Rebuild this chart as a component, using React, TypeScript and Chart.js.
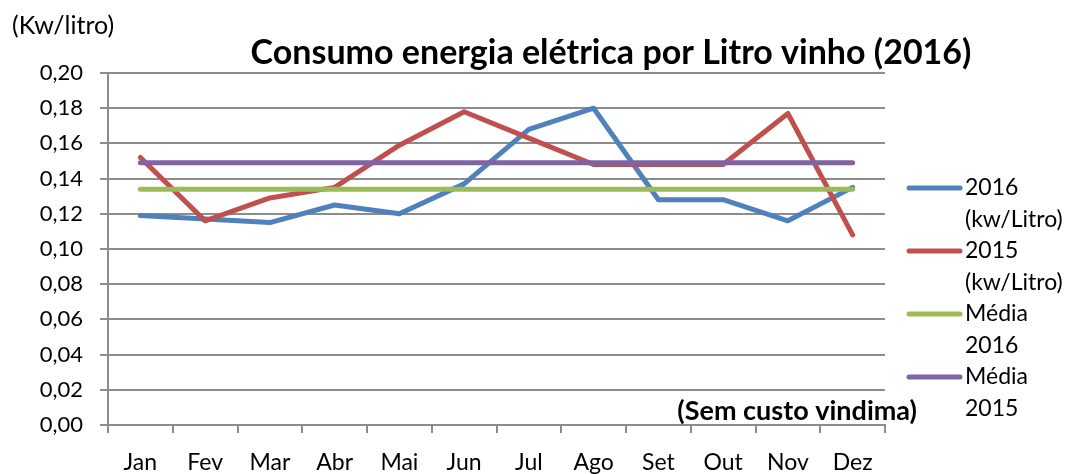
import React, { useEffect, useRef } from 'react';
import { Chart, registerables } from 'chart.js';
Chart.register(...registerables);

const months = ['Jan', 'Fev', 'Mar', 'Abr', 'Mai', 'Jun', 'Jul', 'Ago', 'Set', 'Out', 'Nov', 'Dez'];
const consumo2016 = [0.119, 0.117, 0.115, 0.125, 0.12, 0.137, 0.168, 0.18, 0.128, 0.128, 0.116, 0.135];
const consumo2015 = [0.152, 0.116, 0.129, 0.135, 0.159, 0.178, 0.163, 0.148, 0.148, 0.148, 0.177, 0.108];
const media2016 = [0.134, 0.134, 0.134, 0.134, 0.134, 0.134, 0.134, 0.134, 0.134, 0.134, 0.134, 0.134];
const media2015 = [0.149, 0.149, 0.149, 0.149, 0.149, 0.149, 0.149, 0.149, 0.149, 0.149, 0.149, 0.149];
const yMin = 0;
const yMax = 0.2;
const yStep = 0.02;
const seriesNames = ['2016 (kw/Litro)', '2015 (kw/Litro)', 'Média 2016', 'Média 2015'];
const legendLines = [['2016', '(kw/Litro)'], ['2015', '(kw/Litro)'], ['Média', '2016'], ['Média', '2015']];
const seriesColors = ['#4F81BD', '#C0504D', '#9BBB59', '#8064A2'];
const titleText = 'Consumo energia elétrica por Litro vinho (2016)';
const unitText = '(Kw/litro)';
const noteText = '(Sem custo vindima)';

const FONT = 'Lato, "Open Sans", sans-serif';
const GRID = '#8c8c8c';

const textPlugin = {
  id: 'texts',
  afterDraw(chart: any) {
    const ctx = chart.ctx;
    ctx.save();
    ctx.fillStyle = '#000';
    ctx.textBaseline = 'middle';
    // unit
    ctx.font = `25px ${FONT}`;
    ctx.textAlign = 'left';
    ctx.fillText(unitText, 12, 26);
    // title
    ctx.font = `bold 34px ${FONT}`;
    ctx.textAlign = 'center';
    ctx.fillText(titleText, 611, 53);
    // note
    ctx.font = `bold 27px ${FONT}`;
    ctx.textAlign = 'right';
    ctx.fillText(noteText, 917, 411);
    // legend
    ctx.font = `23px ${FONT}`;
    ctx.textAlign = 'left';
    legendLines.forEach((lines, i) => {
      const y = 188 + i * 63;
      ctx.strokeStyle = seriesColors[i];
      ctx.lineWidth = 5;
      ctx.lineCap = 'round';
      ctx.beginPath();
      ctx.moveTo(909, y);
      ctx.lineTo(960, y);
      ctx.stroke();
      lines.forEach((t, j) => {
        ctx.fillText(t, 965, y + j * 32);
      });
    });
    ctx.restore();
  },
};

export default function App() {
  const ref = useRef<HTMLCanvasElement>(null);
  useEffect(() => {
    if (!ref.current) return;
    const data = [consumo2016, consumo2015, media2016, media2015];
    const chart = new Chart(ref.current, {
      type: 'line',
      data: {
        labels: months,
        datasets: data.map((d, i) => ({
          label: seriesNames[i],
          data: d,
          borderColor: seriesColors[i],
          backgroundColor: seriesColors[i],
          borderWidth: 5,
          pointRadius: 0,
          tension: 0,
          borderCapStyle: 'round' as const,
          borderJoinStyle: 'round' as const,
          order: 4 - i,
        })),
      },
      options: {
        responsive: false,
        animation: false,
        layout: { padding: { left: 0, right: 192, top: 73, bottom: 0 } },
        plugins: {
          legend: { display: false },
          title: { display: false },
          tooltip: { enabled: false },
        },
        scales: {
          x: {
            offset: true,
            grid: { display: true, drawOnChartArea: false, tickLength: 8, color: GRID, lineWidth: 2, offset: true },
            border: { display: true, color: GRID, width: 2 },
            ticks: { color: '#000', font: { family: FONT, size: 23 }, padding: 16, maxRotation: 0, autoSkip: false },
            afterFit: (s: any) => { s.height = 49; },
          },
          y: {
            min: yMin,
            max: yMax,
            grid: { display: true, tickLength: 8, color: GRID, lineWidth: 2 },
            border: { display: true, color: GRID, width: 2 },
            ticks: {
              stepSize: yStep,
              color: '#000',
              font: { family: FONT, size: 22 },
              padding: 17,
              callback: (v: any) => Number(v).toFixed(2).replace('.', ','),
            },
            afterFit: (s: any) => { s.width = 108; },
          },
        },
      },
      plugins: [textPlugin],
    });
    return () => chart.destroy();
  }, []);
  return (
    <canvas
      ref={ref}
      width={1077}
      height={474}
      style={{ position: 'fixed', left: 0, top: 0, width: 1077, height: 474, background: '#fff' }}
    />
  );
}
